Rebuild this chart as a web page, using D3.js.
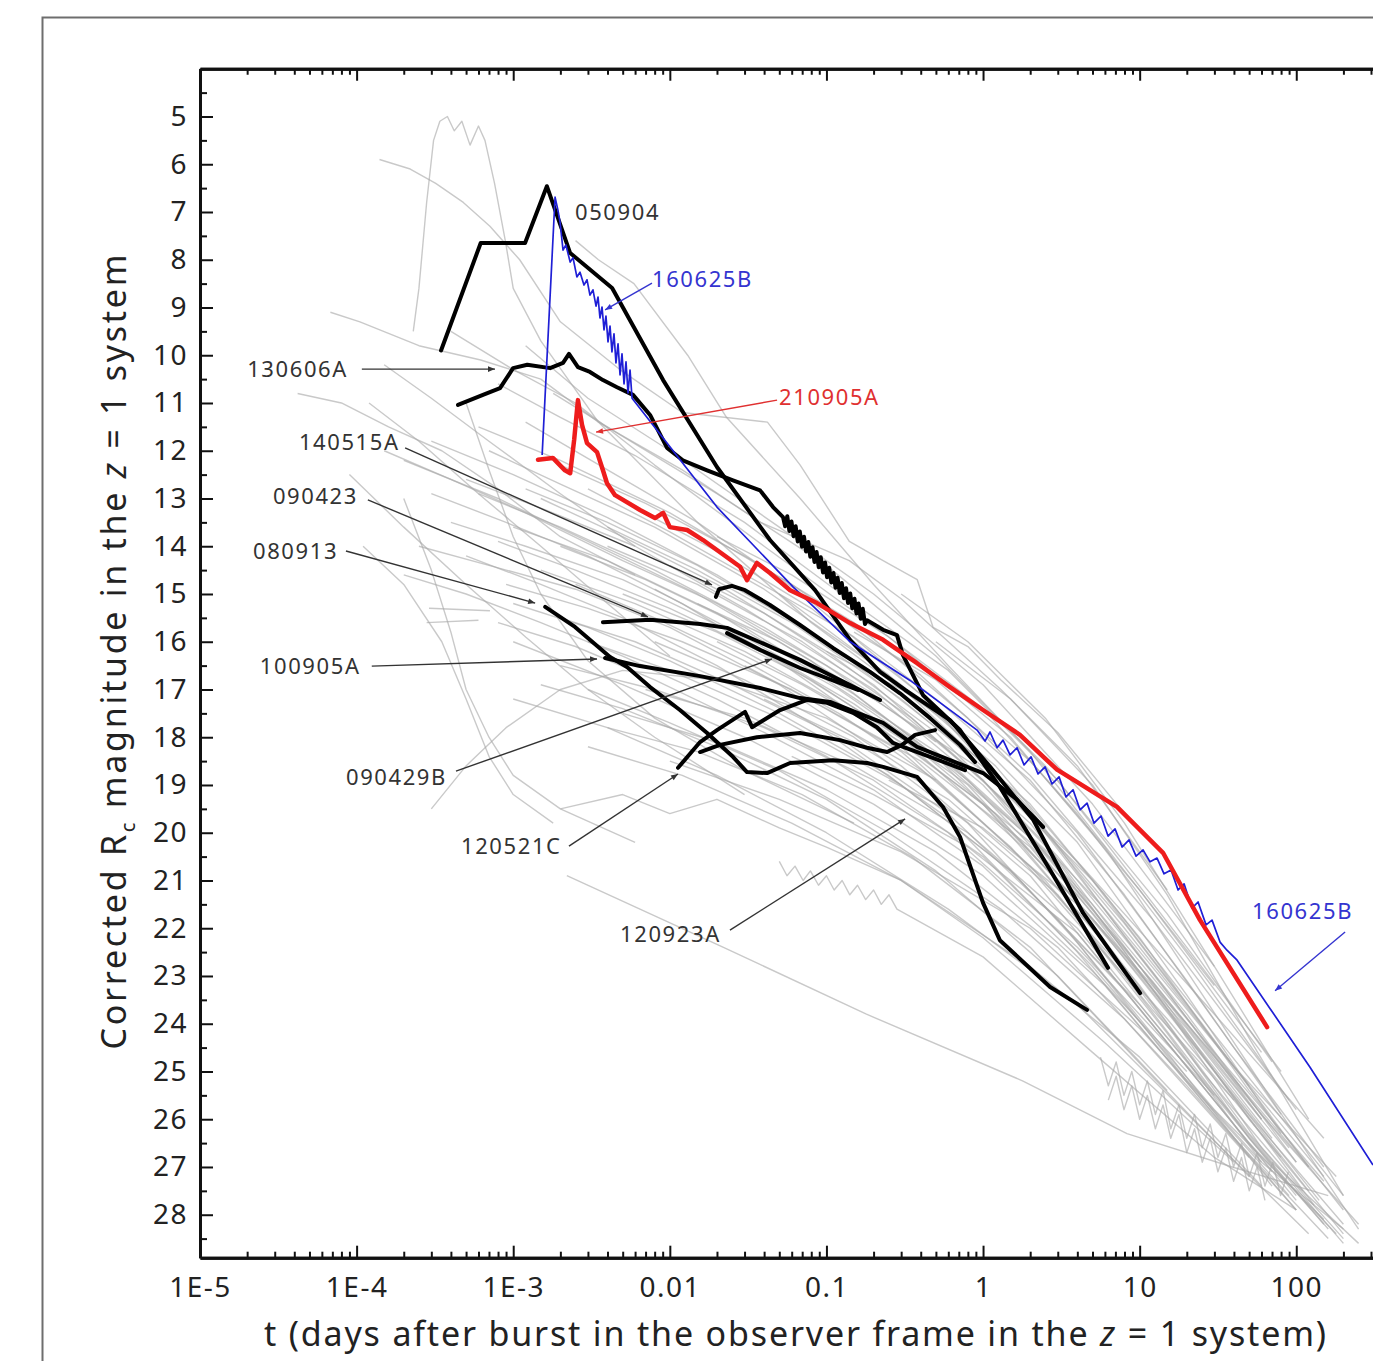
<!DOCTYPE html>
<html>
<head>
<meta charset="utf-8">
<script src="https://cdn.jsdelivr.net/npm/d3@7"></script>
<style>
  body { margin: 0; background: #fff; }
  svg { display: block; font-family: "Noto Sans", "Open Sans", sans-serif; }
  .axis path, .axis line { stroke: #111; }
  .axis text { fill: #222; font-size: 28px; letter-spacing: 1.5px; font-family: "Noto Sans", sans-serif; }
</style>
</head>
<body>
<svg id="chart"></svg>
<script>
// ---- data: [t (days), corrected Rc magnitude] ----
const xTickValues = [1e-5, 1e-4, 1e-3, 0.01, 0.1, 1, 10, 100];
const xTickLabels = ["1E-5", "1E-4", "1E-3", "0.01", "0.1", "1", "10", "100"];
const yTickValues = [5, 6, 7, 8, 9, 10, 11, 12, 13, 14, 15, 16, 17, 18, 19, 20, 21, 22, 23, 24, 25, 26, 27, 28];

// comparison sample (grey)
const grayCurves = [
  [[2.3e-4,9.5],[2.5e-4,8.6],[2.8e-4,6.8],[3.1e-4,5.5],[3.4e-4,5.1],[3.8e-4,5.0],[4.2e-4,5.3],[4.7e-4,5.1],[5.3e-4,5.6],[6.0e-4,5.2],[6.6e-4,5.5],[7.6e-4,6.4],[8.9e-4,7.6],[1.0e-3,8.6],[1.5e-3,9.7],[3.5e-3,11.4],[0.015,13.5],[0.08,15.6],[0.3,17.0]],
  [[1.4e-4,5.9],[2.2e-4,6.1],[3.2e-4,6.4],[4.8e-4,6.8],[7.1e-4,7.3],[1.1e-3,8.0],[2e-3,9.3],[4.8e-3,10.3],[0.012,11.2],[0.042,11.4],[0.068,12.3],[0.14,13.9],[0.23,14.3],[0.38,14.7],[0.48,15.7],[0.8,16.1],[1.3,16.8],[3,17.9],[8,19.6]],
  [[2.5e-3,7.6],[3.5e-3,8.0],[5.9e-3,8.5],[0.013,10.0],[0.023,11.3],[0.068,13.0],[0.2,14.8],[0.6,16.5],[2,18.3],[8,20.8],[30,23.2]],
  [[1.2e-3,9.8],[3e-3,10.9],[0.01,12.0],[0.05,13.6],[0.2,15.0],[1,16.9],[5,19.4],[30,22.8]],
  [[8e-4,10.6],[2e-3,11.3],[6e-3,12.1],[0.03,13.5],[0.15,15.2],[0.6,16.6],[3,18.9],[20,22.4],[80,25.0]],
  [[4e-4,9.5],[1e-3,10.3],[2.5e-3,11.0],[8e-3,12.3],[0.04,14.0],[0.25,15.9],[1.5,18.0],[10,21.2],[60,24.6]],
  [[6e-4,11.5],[2e-3,12.2],[0.01,13.3],[0.06,14.8],[0.4,16.7],[2,18.8],[12,21.8],[100,25.8]],
  [[6.8e-5,9.1],[1.05e-4,9.3],[2.5e-4,9.8],[6.2e-4,10.1],[1.5e-3,10.5],[3.5e-3,11.4],[0.012,12.4],[0.038,13.5],[0.14,14.3],[0.3,15.1],[0.7,16.2],[1.3,17.0],[4,18.6],[15,21.2]],
  [[1.8e-3,10.8],[5e-3,11.7],[0.02,12.9],[0.1,14.4],[0.5,16.3],[2.5,18.6],[15,21.7],[70,24.8]],
  [[3e-4,11.8],[1e-3,12.5],[4e-3,13.4],[0.02,14.6],[0.1,16.0],[0.6,18.0],[4,20.6],[30,23.8],[150,26.4]],
  [[5e-4,12.6],[1.5e-3,13.2],[6e-3,14.0],[0.03,15.3],[0.2,17.0],[1,18.9],[6,21.6],[40,24.9],[180,27.2]],
  [[2e-4,12.2],[8e-4,13.0],[3e-3,13.9],[0.015,15.0],[0.08,16.4],[0.5,18.4],[3,21.0],[20,24.0],[120,27.0]],
  [[1e-3,13.6],[4e-3,14.3],[0.02,15.4],[0.1,16.8],[0.5,18.3],[2.5,20.4],[15,23.5],[90,26.6]],
  [[7e-4,12.0],[2e-3,12.7],[8e-3,13.6],[0.04,14.9],[0.25,16.7],[1.5,19.1],[8,22.0],[50,25.3]],
  [[3e-3,12.8],[0.01,13.7],[0.05,15.0],[0.3,16.9],[1.2,18.6],[6,21.3],[35,24.5],[200,27.6]],
  [[4e-4,13.5],[1.2e-3,14.0],[5e-3,14.7],[0.025,15.8],[0.15,17.3],[0.8,19.0],[5,21.8],[30,25.0],[130,27.8]],
  [[1.5e-3,14.5],[6e-3,15.2],[0.03,16.2],[0.2,17.7],[1,19.4],[5,22.0],[25,25.0],[110,27.5]],
  [[2e-3,12.3],[7e-3,13.1],[0.03,14.2],[0.15,15.6],[0.8,17.6],[4,20.0],[20,23.1],[80,25.9]],
  [[6e-3,13.2],[0.02,14.1],[0.08,15.3],[0.4,17.1],[2,19.5],[10,22.6],[60,25.9],[250,28.2]],
  [[9e-4,14.8],[3e-3,15.3],[0.012,16.0],[0.06,17.0],[0.3,18.3],[1.5,20.3],[8,23.0],[45,26.2],[160,28.3]],
  [[2.5e-4,14.0],[7e-4,14.4],[2.5e-3,14.9],[0.01,15.7],[0.05,16.9],[0.3,18.6],[2,20.9],[12,24.0],[70,27.1]],
  [[4e-3,14.0],[0.015,14.8],[0.07,16.0],[0.35,17.6],[2,19.8],[10,22.8],[50,26.0],[200,28.4]],
  [[0.01,14.4],[0.04,15.4],[0.2,16.9],[1,18.9],[5,21.6],[30,25.0],[120,27.5]],
  [[1.2e-3,11.4],[4e-3,12.4],[0.015,13.5],[0.07,15.0],[0.4,17.1],[2,19.6],[12,22.9],[60,26.0]],
  [[2e-3,16.5],[8e-3,17.0],[0.04,17.8],[0.2,18.9],[1,20.5],[5,22.8],[30,25.8],[150,28.1]],
  [[5e-3,17.5],[0.02,18.1],[0.1,19.1],[0.5,20.4],[3,22.4],[20,25.3],[100,27.9]],
  [[3e-3,18.2],[0.012,18.8],[0.06,19.8],[0.3,21.0],[2,22.8],[10,24.7],[60,27.4]],
  [[2.2e-3,20.9],[0.022,22.4],[0.18,23.8],[1.8,25.2],[8.3,26.3],[39,27.0],[160,27.6]],
  [[1e-3,17.2],[4e-3,17.8],[0.02,18.8],[0.1,20.0],[0.6,21.6],[4,23.6],[25,26.2],[120,28.4]],
  [[8e-3,16.0],[0.03,16.8],[0.15,18.0],[0.8,19.8],[4,22.3],[20,25.2],[90,27.6]],
  [[5.62,24.7],[6.31,25.3],[7.08,24.8],[7.94,25.5],[8.91,25.0],[10,25.7],[11.2,25.2],[12.6,25.9],[14.1,25.4],[15.8,26.2],[17.8,25.7],[20,26.4],[22.4,25.9],[25.1,26.6],[28.2,26.1],[31.6,26.8],[35.5,26.3],[39.8,27.0],[44.7,26.5],[50.1,27.2],[56.2,26.7],[63.1,27.4],[70.8,26.9],[79.4,27.6],[89.1,27.1]],
  [[6.31,25.6],[7.08,25.1],[7.94,25.8],[8.91,25.3],[10,26.0],[11.2,25.5],[12.6,26.2],[14.1,25.7],[15.8,26.4],[17.8,25.9],[20,26.7],[22.4,26.2],[25.1,26.9],[28.2,26.4],[31.6,27.1],[35.5,26.6],[39.8,27.3],[44.7,26.8],[50.1,27.5],[56.2,27.0],[63.1,27.7]],
  [[0.05,20.6],[0.056,20.9],[0.063,20.7],[0.071,21.0],[0.079,20.8],[0.089,21.1],[0.1,20.9],[0.112,21.2],[0.126,21.0],[0.141,21.3],[0.158,21.1],[0.178,21.4],[0.2,21.2],[0.224,21.5],[0.251,21.3],[0.282,21.6],[1,22.6],[5,24.6],[30,26.8],[100,27.9]],
  [[1.2e-4,11.0],[2.5e-4,11.8],[6e-4,12.9],[1.5e-3,14.0],[4e-3,15.2],[0.01,16.3]],
  [[9e-5,12.5],[2e-4,13.6],[5e-4,14.8],[1.2e-3,15.9],[3e-3,17.0],[8e-3,18.0],[0.03,19.2]],
  [[1.5e-4,10.2],[3e-4,10.9],[7e-4,11.8],[2e-3,12.9],[6e-3,14.0]],
  [[2e-4,13.0],[3e-4,14.5],[4e-4,15.8],[5e-4,17.0],[7e-4,18.0],[1e-3,18.8],[2e-3,19.5],[6e-3,20.2]],
  [[2.9e-4,15.3],[7.1e-4,15.35]],
  [[2.8e-4,15.6],[6e-4,15.55]],
  [[3e-4,19.5],[5e-4,18.6],[9e-4,17.8],[2e-3,17.0],[5e-3,16.6],[0.02,16.8],[0.1,17.6],[0.5,18.9]],
  [[1.1e-4,14.0],[2e-4,14.8],[3.5e-4,16.0],[5e-4,17.2],[7e-4,18.4],[1e-3,19.2],[1.8e-3,19.8]],
  [[5e-4,11.0],[7e-4,12.4],[1e-3,13.8],[1.5e-3,15.0],[3e-3,16.4],[8e-3,17.6],[0.03,18.7],[0.15,19.8]],
  [[4.2e-5,10.8],[8e-5,11.0],[1.6e-4,11.5],[3.5e-4,12.0],[8e-4,12.8],[2e-3,13.8],[6e-3,14.6]],
  [[2e-3,19.5],[5e-3,19.2],[0.01,19.6],[0.02,19.3],[0.05,19.9],[0.1,20.3],[0.3,21.0],[1,22.2],[6,24.4],[40,26.9]],
  [[6e-4,12.9],[2e-3,13.6],[8e-3,14.5],[0.04,15.7],[0.2,17.1],[1,19.0],[5,21.5],[30,24.6],[150,27.3]],
  [[1.5e-3,13.0],[5e-3,13.8],[0.02,14.8],[0.1,16.2],[0.5,17.9],[3,20.5],[20,23.8],[100,26.9]],
  [[3e-4,12.9],[9e-4,13.5],[3e-3,14.2],[0.012,15.2],[0.06,16.6],[0.3,18.2],[2,20.7],[15,23.9],[80,26.8]],
  [[2e-3,14.0],[7e-3,14.7],[0.03,15.7],[0.15,17.1],[0.8,18.9],[4,21.3],[25,24.6],[140,27.7]],
  [[1e-3,15.2],[3e-3,15.7],[0.01,16.4],[0.05,17.5],[0.25,18.8],[1.5,20.8],[10,23.6],[70,26.9],[250,28.6]],
  [[5e-3,15.0],[0.02,15.8],[0.08,16.8],[0.4,18.3],[2,20.2],[12,23.1],[60,26.0]],
  [[8e-4,13.9],[2.5e-3,14.5],[0.01,15.3],[0.05,16.4],[0.3,18.0],[1.8,20.3],[10,23.2],[50,26.3],[200,28.5]],
  [[3e-3,16.0],[0.01,16.6],[0.05,17.6],[0.3,19.0],[1.5,20.8],[8,23.3],[50,26.5],[180,28.4]],
  [[4e-3,13.6],[0.015,14.5],[0.06,15.6],[0.3,17.2],[1.5,19.1],[8,21.9],[40,24.9],[150,27.2]],
  [[1.2e-3,12.8],[4e-3,13.5],[0.015,14.4],[0.08,15.8],[0.4,17.4],[2,19.4],[10,22.2],[50,25.4],[200,27.9]],
  [[0.02,13.8],[0.06,14.6],[0.25,15.9],[1,17.4],[4,19.6],[20,22.6],[90,25.6]],
  [[0.015,15.2],[0.05,16.0],[0.2,17.2],[1,18.7],[5,21.0],[25,24.0],[120,27.0]],
  [[0.03,16.5],[0.1,17.4],[0.4,18.5],[2,20.3],[10,23.0],[50,25.9],[200,28.2]],
  [[7e-3,17.0],[0.03,17.6],[0.15,18.6],[0.8,20.0],[4,22.0],[20,24.8],[100,27.6]],
  [[2e-3,15.5],[6e-3,16.0],[0.025,16.9],[0.12,18.0],[0.6,19.6],[3,21.8],[15,24.6],[70,27.4]],
  [[5e-4,14.2],[1.5e-3,14.8],[5e-3,15.5],[0.02,16.5],[0.1,17.9],[0.6,19.7],[4,22.5],[25,25.6],[100,27.9]],
  [[0.05,15.0],[0.15,15.9],[0.5,17.2],[2,18.9],[8,21.3],[40,24.5],[150,27.0]],
  [[0.1,16.2],[0.3,17.0],[1,18.2],[4,20.2],[20,23.4],[80,26.3]],
  [[0.2,17.6],[0.7,18.7],[3,20.6],[15,23.7],[60,26.6],[200,28.6]],
  [[0.3,15.0],[0.8,16.0],[2.5,17.6],[8,19.8],[30,22.8],[120,26.0]],
  [[0.5,16.0],[1.5,17.2],[5,19.0],[15,21.3],[50,24.3],[200,27.6]],
  [[1e-3,16.0],[5e-3,16.9],[0.03,18.0],[0.2,19.4],[1,20.9],[6,23.2],[40,26.4],[160,28.5]],
  [[3e-3,17.0],[0.01,17.7],[0.05,18.7],[0.25,20.0],[1.3,21.6],[8,23.9],[50,26.8]],
  [[0.01,18.5],[0.05,19.3],[0.3,20.4],[2,22.0],[10,24.1],[60,26.9],[200,28.3]],
  [[1.5e-4,12.0],[4e-4,12.6],[1.2e-3,13.3],[5e-3,14.3],[0.02,15.2],[0.1,16.5],[0.5,18.1]],
  [[2e-4,14.6],[5e-4,15.0],[1.5e-3,15.6],[5e-3,16.3],[0.02,17.2],[0.1,18.4],[0.6,20.0],[4,22.4],[30,25.5]],
  [[2.5e-3,14.8],[8e-3,15.5],[0.03,16.4],[0.12,17.5],[0.5,18.9],[2.5,21.0],[12,23.7],[40,25.6]],
  [[0.004,17.8],[0.015,18.3],[0.07,19.2],[0.35,20.5],[2,22.4],[12,25.1],[50,27.2]],
  [[0.02,16.0],[0.07,16.9],[0.3,18.1],[1.2,19.6],[5,21.8],[20,24.1],[70,26.4]],
  [[0.04,17.2],[0.15,18.1],[0.6,19.3],[3,21.3],[15,24.2],[60,26.9]],
  [[0.06,18.4],[0.2,19.2],[0.8,20.3],[4,22.1],[20,24.9],[100,27.7]],
  [[8e-4,15.6],[2.5e-3,16.1],[8e-3,16.8],[0.04,17.9],[0.2,19.1],[1,20.7],[5,22.9],[20,25.0]],
  [[1.5e-3,16.9],[5e-3,17.4],[0.02,18.2],[0.1,19.3],[0.5,20.8],[3,23.0],[15,25.4]],
  [[0.008,14.9],[0.03,15.9],[0.12,17.0],[0.5,18.4],[2,20.1],[8,22.4],[30,24.8],[100,26.9]],
  [[0.15,15.8],[0.5,16.8],[2,18.5],[6,20.3],[20,22.9],[70,25.6],[250,28.3]],
  [[0.25,18.9],[1,19.9],[4,21.5],[15,24.0],[50,26.4],[150,28.2]]
];

const grb050904 = [[3.46e-4,9.9],[6.2e-4,7.65],[1.19e-3,7.65],[1.64e-3,6.46],[2.31e-3,7.86],[4.28e-3,8.59],[9.06e-3,10.52],[0.02,12.34],[0.0436,13.87],[0.0846,14.92],[0.1415,15.96],[0.22,16.63],[0.318,17.01],[0.615,17.64],[1.11,18.62],[2.09,19.73],[4.35,21.68],[10.07,23.36]];

const grb130606A = [[4.44e-4,11.04],[6.41e-4,10.83],[8.24e-4,10.69],[9.98e-4,10.27],[1.23e-3,10.2],[1.72e-3,10.27],[2.08e-3,10.16],[2.27e-3,9.97],[2.59e-3,10.25],[3.09e-3,10.35],[3.74e-3,10.52],[4.6e-3,10.67],[5.82e-3,10.83],[7.48e-3,11.25],[9.6e-3,11.94],[0.0121,12.2],[0.0173,12.41],[0.0253,12.62],[0.0377,12.83],[0.0456,13.18],
  [0.0528,13.39],[0.0545,13.58],[0.0562,13.37],[0.0580,13.68],[0.0598,13.48],[0.0617,13.79],[0.0636,13.58],[0.0656,13.90],[0.0676,13.69],[0.0698,14.01],[0.0719,13.80],[0.0741,14.11],[0.0766,13.91],[0.0789,14.22],[0.0815,14.02],[0.0839,14.33],[0.0865,14.12],[0.0893,14.44],[0.0920,14.23],[0.0951,14.55],[0.0980,14.34],[0.1009,14.65],[0.1042,14.45],[0.1074,14.76],[0.1109,14.56],[0.1143,14.87],[0.1178,14.66],[0.1216,14.98],[0.1253,14.77],[0.1294,15.09],[0.1334,14.88],[0.1374,15.19],[0.1419,14.99],[0.1462,15.30],[0.1510,15.10],[0.1556,15.41],[0.1603,15.20],[0.1656,15.52],[0.1706,15.31],[0.1762,15.63],[0.1816,15.55],
  [0.23,15.75],[0.282,15.86],[0.308,16.28],[0.414,17.12],[0.713,17.85],[1.28,19.04],[2.68,20.78],[6.28,22.83]];

const grb140515A = [[0.0197,15.06],[0.0206,14.9],[0.0249,14.83],[0.0302,14.92],[0.0436,15.23],[0.0678,15.65],[0.110,16.13],[0.19,16.63],[0.295,17.08],[0.459,17.6],[0.713,18.16],[0.889,18.52]];
const grb090423 = [[3.74e-3,15.59],[7.48e-3,15.54],[0.0156,15.63],[0.0232,15.71],[0.0377,16.01],[0.0678,16.38],[0.122,16.8],[0.22,17.22]];
const grb090429B = [[0.0232,15.82],[0.0377,16.17],[0.0678,16.55],[0.159,17.01]];
const grb100905A = [[3.86e-3,16.34],[6.45e-3,16.51],[0.0156,16.72],[0.0377,16.97],[0.0678,17.18],[0.1055,17.26],[0.152,17.47],[0.23,17.7],[0.379,18.2],[0.615,18.48],[1,18.75],[1.65,19.31],[2.42,19.88]];
const grb080913 = [[1.6e-3,15.27],[2.48e-3,15.69],[4.15e-3,16.32],[5.33e-3,16.53],[7.48e-3,16.95],[0.0116,17.43],[0.0173,17.91],[0.0253,18.41],[0.0311,18.73],[0.0418,18.75],[0.0586,18.54],[0.110,18.48],[0.1816,18.54],[0.23,18.62],[0.379,18.83],[0.555,19.46],[0.713,20.09],[1,21.47],[1.28,22.25],[2.68,23.23],[4.61,23.71]];
const grb120521C = [[0.01128,18.64],[0.0156,18.1],[0.02,17.85],[0.0302,17.47],[0.0335,17.79],[0.0506,17.43],[0.0752,17.22],[0.101,17.28],[0.148,17.49],[0.21,17.79],[0.266,18.12],[0.318,18.22],[0.459,18.41],[0.767,18.69]];
const grb120923A = [[0.0156,18.31],[0.0209,18.16],[0.036,18.0],[0.0678,17.91],[0.122,18.06],[0.1816,18.22],[0.244,18.31],[0.304,18.16],[0.368,17.95],[0.494,17.85]];

const grb210905A = [[1.44e-3,12.19],[1.79e-3,12.15],[2.14e-3,12.41],[2.31e-3,12.47],[2.45e-3,11.77],[2.59e-3,10.94],[2.75e-3,11.46],[2.96e-3,11.84],[3.43e-3,12.03],[3.74e-3,12.41],[3.97e-3,12.68],[4.47e-3,12.93],[6.45e-3,13.24],[8.04e-3,13.41],[9.06e-3,13.3],[0.01,13.6],[0.0129,13.66],[0.0163,13.87],[0.0281,14.43],[0.0311,14.71],[0.036,14.35],[0.0436,14.56],[0.0586,14.92],[0.0871,15.19],[0.1415,15.61],[0.23,15.96],[0.379,16.45],[0.615,16.95],[1,17.43],[1.72,17.95],[2.97,18.68],[7.17,19.46],[14.1,20.42],[24.3,21.83],[65.1,24.07]];

const grb160625B = [[1.53e-3,12.09],[1.85e-3,6.69],[1.93e-3,6.96],[1.99e-3,7.21],[2.08e-3,7.8],[2.17e-3,7.69],[2.31e-3,8.05],[2.41e-3,7.96],[2.55e-3,8.36],[2.67e-3,8.26],[2.83e-3,8.53],[2.96e-3,8.42],[3.09e-3,8.74],[3.23e-3,8.63],
  [3.38e-3,8.97],[3.48e-3,8.78],[3.58e-3,9.22],[3.69e-3,8.99],[3.80e-3,9.47],[3.91e-3,9.18],[4.03e-3,9.72],[4.15e-3,9.39],[4.27e-3,9.93],[4.40e-3,9.55],[4.53e-3,10.16],[4.67e-3,9.76],[4.81e-3,10.41],[4.95e-3,9.97],[5.10e-3,10.60],[5.25e-3,10.14],[5.41e-3,10.79],[5.57e-3,10.31],[5.74e-3,10.90],
  [0.0121,12.26],[0.02,13.18],[0.0612,14.85],[0.1415,16.0],[0.342,16.81],[0.916,17.85],
  [1.03,18.08],[1.108,17.89],[1.229,18.22],[1.342,18.06],[1.487,18.37],[1.649,18.22],[1.827,18.58],[2.025,18.41],[2.245,18.77],[2.489,18.62],[2.758,18.98],[3.057,18.83],[3.388,19.25],[3.756,19.1],[4.163,19.52],[4.614,19.38],[5.114,19.8],[5.668,19.65],[6.283,20.07],[6.964,19.92],[7.719,20.3],[8.555,20.15],[9.484,20.49],[10.51,20.36],[11.65,20.61],[12.91,20.53],[14.31,20.86],[15.87,20.78],[17.59,21.2],[19.21,21.07],[21.61,21.58],[23.6,21.45],[26.55,21.93],[28.98,21.83],[32.6,22.29],[36.1,22.46],[41.9,22.67],[122.4,24.91],[309,26.96]];

// annotations: text anchor [t, mag], arrow tail -> head
const annotations = [
  {text: "050904",  color: "#333", pos: [2.48e-3, 7.17]},
  {text: "160625B", color: "#3434d0", pos: [7.69e-3, 8.57], from: [7.69e-3, 8.49], to: [3.86e-3, 9.05]},
  {text: "130606A", color: "#333", pos: [2.0e-5, 10.46], from: [1.08e-4, 10.29], to: [7.65e-4, 10.29]},
  {text: "210905A", color: "#e03030", pos: [0.0498, 11.04], from: [0.0484, 10.94], to: [3.38e-3, 11.61]},
  {text: "140515A", color: "#333", pos: [4.28e-5, 11.98], from: [2.04e-4, 11.94], to: [0.0186, 14.81]},
  {text: "090423",  color: "#333", pos: [2.92e-5, 13.12], from: [1.18e-4, 13.03], to: [7.26e-3, 15.48]},
  {text: "080913",  color: "#333", pos: [2.18e-5, 14.27], from: [8.55e-5, 14.10], to: [1.38e-3, 15.19]},
  {text: "100905A", color: "#333", pos: [2.41e-5, 16.68], from: [1.25e-4, 16.51], to: [3.43e-3, 16.36]},
  {text: "090429B", color: "#333", pos: [8.55e-5, 19.0], from: [4.31e-4, 18.71], to: [0.0449, 16.36]},
  {text: "120521C", color: "#333", pos: [4.64e-4, 20.45], from: [2.27e-3, 20.28], to: [0.01128, 18.77]},
  {text: "120923A", color: "#333", pos: [4.81e-3, 22.29], from: [0.0242, 22.04], to: [0.318, 19.71]},
  {text: "160625B", color: "#3434d0", pos: [52.2, 21.81], from: [205, 22.08], to: [73.2, 23.31]}
];

// ---- layout ----
const width = 1373, height = 1361;
const margin = {top: 68.75, left: 200};
const plotRight = 1373, plotBottom = 1257.7;

const svg = d3.select("#chart").attr("width", width).attr("height", height);

// outer frame of the figure
svg.append("rect")
  .attr("x", 42.5).attr("y", 17.5)
  .attr("width", 1400).attr("height", 1400)
  .attr("fill", "none").attr("stroke", "#6e6e6e").attr("stroke-width", 2);

const x = d3.scaleLog().domain([1e-5, 309]).range([margin.left, plotRight]);
const y = d3.scaleLinear().domain([4, 28.9]).range([margin.top, plotBottom]);

svg.append("defs").append("clipPath").attr("id", "plotclip")
  .append("rect").attr("x", margin.left).attr("y", margin.top)
  .attr("width", plotRight - margin.left).attr("height", plotBottom - margin.top);

const line = d3.line().x(d => x(d[0])).y(d => y(d[1]));
const plot = svg.append("g").attr("clip-path", "url(#plotclip)");

// grey comparison light curves
plot.selectAll(".gray").data(grayCurves).join("path")
  .attr("class", "gray")
  .attr("d", line)
  .attr("fill", "none")
  .attr("stroke", "#a8a8a8")
  .attr("stroke-opacity", 0.62)
  .attr("stroke-width", 1.4)
  .attr("stroke-linejoin", "round");

// highlighted black light curves
const blackCurves = [grb140515A, grb090423, grb090429B, grb100905A, grb080913, grb120521C, grb120923A, grb130606A, grb050904];
plot.selectAll(".black").data(blackCurves).join("path")
  .attr("class", "black")
  .attr("d", line)
  .attr("fill", "none")
  .attr("stroke", "#000")
  .attr("stroke-width", 4)
  .attr("stroke-linejoin", "round")
  .attr("stroke-linecap", "round");

plot.append("path").datum(grb160625B)
  .attr("d", line)
  .attr("fill", "none")
  .attr("stroke", "#1f1fd6")
  .attr("stroke-width", 1.7)
  .attr("stroke-linejoin", "round");

plot.append("path").datum(grb210905A)
  .attr("d", line)
  .attr("fill", "none")
  .attr("stroke", "#ee1c1c")
  .attr("stroke-width", 4.5)
  .attr("stroke-linejoin", "round")
  .attr("stroke-linecap", "round");

// ---- axes (ticks pointing inwards) ----
const decades = d3.range(-5, 3);
const minorX = [];
decades.forEach(e => { for (let k = 2; k <= 9; k++) { const v = k * Math.pow(10, e); if (v <= 309) minorX.push(v); } });
const minorY = d3.range(4.5, 29, 1);

const axisStyle = g => {
  g.attr("class", "axis");
  g.select(".domain").attr("stroke-width", 3);
  g.selectAll(".tick line").attr("stroke-width", 2);
};

svg.append("g").attr("transform", `translate(0,${plotBottom})`)
  .call(d3.axisBottom(x).tickValues(minorX).tickSize(-6).tickFormat("").tickSizeOuter(0)).call(axisStyle);
svg.append("g").attr("transform", `translate(0,${plotBottom})`)
  .call(d3.axisBottom(x).tickValues(xTickValues).tickSize(-12).tickPadding(19).tickSizeOuter(0)
    .tickFormat((d, i) => xTickLabels[i])).call(axisStyle);

svg.append("g").attr("transform", `translate(0,${margin.top})`)
  .call(d3.axisTop(x).tickValues(minorX).tickSize(-6).tickFormat("").tickSizeOuter(0)).call(axisStyle);
svg.append("g").attr("transform", `translate(0,${margin.top})`)
  .call(d3.axisTop(x).tickValues(xTickValues).tickSize(-12).tickFormat("").tickSizeOuter(0)).call(axisStyle);

svg.append("g").attr("transform", `translate(${margin.left},0)`)
  .call(d3.axisLeft(y).tickValues(minorY).tickSize(-7).tickFormat("").tickSizeOuter(0)).call(axisStyle);
svg.append("g").attr("transform", `translate(${margin.left},0)`)
  .call(d3.axisLeft(y).tickValues(yTickValues).tickSize(-13).tickPadding(12).tickSizeOuter(0)
    .tickFormat(d3.format("d"))).call(axisStyle);

// ---- annotations ----
const defs = svg.select("defs");
const colors = Array.from(new Set(annotations.map(a => a.color)));
colors.forEach((c, i) => {
  defs.append("marker").attr("id", "arrow" + i)
    .attr("viewBox", "0 0 10 10").attr("refX", 10).attr("refY", 5)
    .attr("markerWidth", 10).attr("markerHeight", 7).attr("markerUnits", "userSpaceOnUse")
    .attr("orient", "auto")
    .append("path").attr("d", "M0,1 L10,5 L0,9 Z").attr("fill", c);
});

const ann = svg.append("g");
annotations.filter(a => a.from).forEach(a => {
  ann.append("line")
    .attr("x1", x(a.from[0])).attr("y1", y(a.from[1]))
    .attr("x2", x(a.to[0])).attr("y2", y(a.to[1]))
    .attr("stroke", a.color).attr("stroke-width", 1.4)
    .attr("marker-end", `url(#arrow${colors.indexOf(a.color)})`);
});
ann.selectAll("text").data(annotations).join("text")
  .attr("x", d => x(d.pos[0])).attr("y", d => y(d.pos[1]))
  .attr("fill", d => d.color)
  .style("font-size", "22px")
  .style("letter-spacing", "1.6px")
  .text(d => d.text);

// ---- axis titles ----
svg.append("text")
  .attr("x", 795).attr("y", 1346)
  .attr("text-anchor", "middle")
  .attr("textLength", 1062).attr("lengthAdjust", "spacing")
  .style("font-size", "34px").attr("fill", "#222")
  .html('t (days after burst in the observer frame in the <tspan font-style="italic">z</tspan> = 1 system)');

svg.append("text")
  .attr("transform", "translate(126,652) rotate(-90)")
  .attr("text-anchor", "middle")
  .attr("textLength", 795).attr("lengthAdjust", "spacing")
  .style("font-size", "34px").attr("fill", "#222")
  .html('Corrected R<tspan dy="9" font-size="20px">c</tspan><tspan dy="-9"> magnitude in the </tspan><tspan font-style="italic">z</tspan> = 1 system');
</script>
</body>
</html>
